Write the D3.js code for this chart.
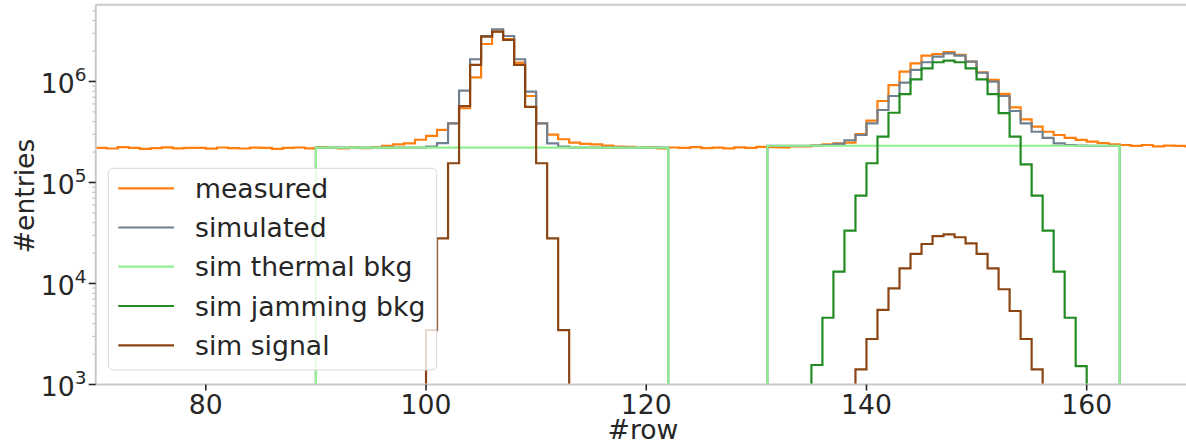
<!DOCTYPE html>
<html>
<head>
<meta charset="utf-8">
<script src="https://cdn.jsdelivr.net/npm/d3@7"></script>
<style>
  html, body { margin: 0; padding: 0; background: #fff; }
  svg { display: block; font-family: "DejaVu Sans", sans-serif; }
</style>
</head>
<body>
<svg id="chart" width="1186" height="445"></svg>
<script>
// ---- data (histogram bins of width 1; first value belongs to bin starting at *Start) ----
const measuredStart = 70;
const measured = [
  2.20e5, 2.17e5, 2.24e5, 2.20e5, 2.15e5, 2.19e5, 2.23e5, 2.18e5, 2.20e5, 2.20e5,   // 70-79
  2.16e5, 2.22e5, 2.19e5, 2.17e5, 2.21e5, 2.20e5, 2.15e5, 2.20e5, 2.22e5, 2.18e5,   // 80-89
  2.24e5, 2.20e5, 2.17e5, 2.22e5, 2.19e5, 2.24e5, 2.30e5, 2.38e5, 2.44e5, 2.65e5,   // 90-99
  2.89e5, 3.31e5, 3.85e5, 5.43e5, 1.10e6, 2.35e6, 3.11e6, 2.62e6, 1.54e6, 7.18e5,   // 100-109
  3.85e5, 2.98e5, 2.68e5, 2.48e5, 2.41e5, 2.38e5, 2.32e5, 2.27e5, 2.25e5, 2.20e5,   // 110-119
  2.23e5, 2.18e5, 2.22e5, 2.20e5, 2.24e5, 2.19e5, 2.21e5, 2.18e5, 2.23e5, 2.20e5,   // 120-129
  2.25e5, 2.24e5, 2.22e5, 2.27e5, 2.27e5, 2.32e5, 2.38e5, 2.44e5, 2.48e5, 3.02e5,   // 130-139
  4.09e5, 6.41e5, 9.22e5, 1.25e6, 1.51e6, 1.80e6, 1.87e6, 1.95e6, 1.83e6, 1.57e6,   // 140-149
  1.23e6, 1.035e6, 7.52e5, 5.55e5, 4.22e5, 3.57e5, 3.18e5, 2.95e5, 2.76e5, 2.64e5,  // 150-159
  2.54e5, 2.46e5, 2.38e5, 2.35e5, 2.30e5, 2.35e5, 2.28e5, 2.32e5, 2.30e5, 2.28e5    // 160-169
];

const simulatedStart = 90;
const simulated = [
  2.21e5, 2.21e5, 2.21e5, 2.21e5, 2.21e5, 2.21e5, 2.21e5, 2.21e5, 2.21e5, 2.21e5,   // 90-99
  2.26e5, 2.45e5, 3.85e5, 8.10e5, 1.66e6, 2.82e6, 3.29e6, 2.82e6, 1.66e6, 7.92e5,   // 100-109
  3.85e5, 2.44e5, 2.26e5, 2.21e5, 2.21e5, 2.21e5, 2.21e5, 2.21e5, 2.21e5, 2.21e5,   // 110-119
  2.21e5, 2.21e5, 0, 0, 0, 0, 0, 0, 0, 0,                                           // 120-129
  0, 2.31e5, 2.31e5, 2.31e5, 2.31e5, 2.32e5, 2.35e5, 2.41e5, 2.62e5, 2.95e5,        // 130-139
  3.85e5, 5.22e5, 7.18e5, 9.73e5, 1.30e6, 1.55e6, 1.76e6, 1.90e6, 1.80e6, 1.57e6,   // 140-149
  1.22e6, 9.95e5, 7.18e5, 5.10e5, 3.85e5, 3.18e5, 2.76e5, 2.44e5, 2.35e5, 2.32e5,   // 150-159
  2.31e5, 2.31e5, 2.31e5                                                            // 160-162
];

const thermalStart = 90;
const thermal = [
  2.21e5, 2.21e5, 2.21e5, 2.21e5, 2.21e5, 2.21e5, 2.21e5, 2.21e5, 2.21e5, 2.21e5,   // 90-99
  2.21e5, 2.21e5, 2.21e5, 2.21e5, 2.21e5, 2.21e5, 2.21e5, 2.21e5, 2.21e5, 2.21e5,   // 100-109
  2.21e5, 2.21e5, 2.21e5, 2.21e5, 2.21e5, 2.21e5, 2.21e5, 2.21e5, 2.21e5, 2.21e5,   // 110-119
  2.21e5, 2.21e5, 0, 0, 0, 0, 0, 0, 0, 0,                                           // 120-129
  0, 2.31e5, 2.31e5, 2.31e5, 2.31e5, 2.31e5, 2.31e5, 2.31e5, 2.31e5, 2.31e5,        // 130-139
  2.31e5, 2.31e5, 2.31e5, 2.31e5, 2.31e5, 2.31e5, 2.31e5, 2.31e5, 2.31e5, 2.31e5,   // 140-149
  2.31e5, 2.31e5, 2.31e5, 2.31e5, 2.31e5, 2.31e5, 2.31e5, 2.31e5, 2.31e5, 2.31e5,   // 150-159
  2.31e5, 2.31e5, 2.31e5                                                            // 160-162
];

const jammingStart = 135;
const jamming = [
  1.56e3, 4.58e3, 1.31e4, 3.33e4, 7.40e4,                                           // 135-139
  1.55e5, 2.84e5, 4.90e5, 7.50e5, 1.05e6, 1.35e6, 1.55e6, 1.61e6, 1.55e6, 1.35e6,   // 140-149
  1.05e6, 7.50e5, 4.85e5, 2.84e5, 1.51e5, 7.40e4, 3.33e4, 1.31e4, 4.58e3, 1.52e3    // 150-159
];

const signalStart = 100;
const signal = [
  3.46e3, 2.80e4, 1.55e5, 5.71e5, 1.46e6, 2.78e6, 3.11e6, 2.58e6, 1.46e6, 5.60e5,   // 100-109
  1.55e5, 2.80e4, 3.46e3, 0, 0, 0, 0, 0, 0, 0,                                      // 110-119
  0, 0, 0, 0, 0, 0, 0, 0, 0, 0,                                                     // 120-129
  0, 0, 0, 0, 0, 0, 0, 0, 0, 1.41e3,                                                // 130-139
  2.82e3, 5.47e3, 8.96e3, 1.41e4, 1.96e4, 2.46e4, 2.95e4, 3.07e4, 2.87e4, 2.50e4,   // 140-149
  1.96e4, 1.41e4, 8.77e3, 5.34e3, 2.82e3, 1.41e3                                    // 150-155
];

const seriesNames = ["measured", "simulated", "sim thermal bkg", "sim jamming bkg", "sim signal"];
const seriesColors = ["#ff7f0e", "#708090", "#90ee90", "#228b22", "#8b4513"];
const xTicks = [80, 100, 120, 140, 160];
const yTickExponents = [3, 4, 5, 6];
const xLabel = "#row";
const yLabel = "#entries";

// ---- layout ----
const svg = d3.select("#chart");
const plot = { left: 95.7, top: 4.7, right: 1196.8, bottom: 384.5 };
const x = d3.scaleLinear().domain([70, 170]).range([plot.left, plot.right]);
const y = d3.scaleLog().domain([1e3, Math.pow(10, 6.76)]).range([plot.bottom, plot.top]);
const FONT = 26.67;

svg.append("defs").append("clipPath").attr("id", "clip")
  .append("rect")
  .attr("x", plot.left).attr("y", plot.top)
  .attr("width", plot.right - plot.left).attr("height", plot.bottom - plot.top);

// step-histogram path builder
function stepPoints(start, vals, closeEnds) {
  const pts = [];
  if (closeEnds) pts.push([start, 0]);
  vals.forEach((v, i) => pts.push([start + i, v]));
  pts.push([start + vals.length, vals[vals.length - 1]]);
  if (closeEnds) pts.push([start + vals.length, 0]);
  return pts;
}
const yv = v => v > 0 ? Math.min(y(v), plot.bottom + 30) : plot.bottom + 30;
const line = d3.line().x(d => x(d[0])).y(d => yv(d[1])).curve(d3.curveStepAfter);

const series = [
  { start: measuredStart, vals: measured, close: false },
  { start: simulatedStart, vals: simulated, close: true },
  { start: thermalStart, vals: thermal, close: true },
  { start: jammingStart, vals: jamming, close: true },
  { start: signalStart, vals: signal, close: true }
];

const g = svg.append("g").attr("clip-path", "url(#clip)");
series.forEach((s, i) => {
  g.append("path")
    .attr("d", line(stepPoints(s.start, s.vals, s.close)))
    .attr("fill", "none")
    .attr("stroke", seriesColors[i])
    .attr("stroke-width", 2.2)
    .attr("stroke-linejoin", "miter");
});

// ---- spines ----
const spineColor = "#c9c9c9";
svg.append("line").attr("x1", plot.left).attr("x2", plot.right).attr("y1", plot.top).attr("y2", plot.top)
  .attr("stroke", spineColor).attr("stroke-width", 2);
svg.append("line").attr("x1", plot.left).attr("x2", plot.right).attr("y1", plot.bottom).attr("y2", plot.bottom)
  .attr("stroke", spineColor).attr("stroke-width", 2);
svg.append("line").attr("x1", plot.left).attr("x2", plot.left).attr("y1", plot.top).attr("y2", plot.bottom)
  .attr("stroke", spineColor).attr("stroke-width", 2);

// ---- x axis ----
const xAxis = svg.append("g");
xTicks.forEach(t => {
  xAxis.append("line").attr("x1", x(t)).attr("x2", x(t)).attr("y1", plot.bottom).attr("y2", plot.bottom + 6)
    .attr("stroke", "#262626").attr("stroke-width", 1.6);
  xAxis.append("text").attr("x", x(t)).attr("y", 413.5).attr("text-anchor", "middle")
    .attr("font-size", FONT).attr("fill", "#262626").text(t);
});
svg.append("text").attr("x", 643).attr("y", 438.5).attr("text-anchor", "middle")
  .attr("font-size", FONT).attr("fill", "#262626").text(xLabel);

// ---- y axis ----
const yAxis = svg.append("g");
// minor ticks
for (let e = 3; e <= 6; e++) {
  for (let m = 2; m <= 9; m++) {
    const v = m * Math.pow(10, e);
    if (v > y.domain()[1]) continue;
    yAxis.append("line").attr("x1", plot.left - 3.5).attr("x2", plot.left).attr("y1", y(v)).attr("y2", y(v))
      .attr("stroke", "#bdbdbd").attr("stroke-width", 1);
  }
}
yTickExponents.forEach(e => {
  const v = Math.pow(10, e);
  yAxis.append("line").attr("x1", plot.left - 7).attr("x2", plot.left).attr("y1", y(v)).attr("y2", y(v))
    .attr("stroke", "#262626").attr("stroke-width", 1.6);
  const t = yAxis.append("text").attr("x", 86.5).attr("y", y(v) + 11.6).attr("text-anchor", "end")
    .attr("font-size", FONT).attr("fill", "#262626");
  t.append("tspan").text("10");
  t.append("tspan").attr("dy", -11.8).attr("font-size", 18.5).text(e);
});
svg.append("text")
  .attr("transform", "translate(34,196) rotate(-90)")
  .attr("text-anchor", "middle").attr("font-size", FONT).attr("fill", "#262626").text(yLabel);

// ---- legend ----
const lg = svg.append("g");
lg.append("rect").attr("x", 108.3).attr("y", 168.3).attr("width", 328.4).attr("height", 201.7)
  .attr("rx", 5).attr("ry", 5)
  .attr("fill", "#ffffff").attr("fill-opacity", 0.8)
  .attr("stroke", "#d8d8d8").attr("stroke-width", 1);
const legendY = [188.3, 227.5, 266.7, 306, 345.3];
seriesNames.forEach((name, i) => {
  lg.append("line").attr("x1", 118.3).attr("x2", 174).attr("y1", legendY[i]).attr("y2", legendY[i])
    .attr("stroke", seriesColors[i]).attr("stroke-width", 2.2);
  lg.append("text").attr("x", 195).attr("y", legendY[i] + 9.5)
    .attr("font-size", FONT).attr("fill", "#262626").text(name);
});
</script>
</body>
</html>
